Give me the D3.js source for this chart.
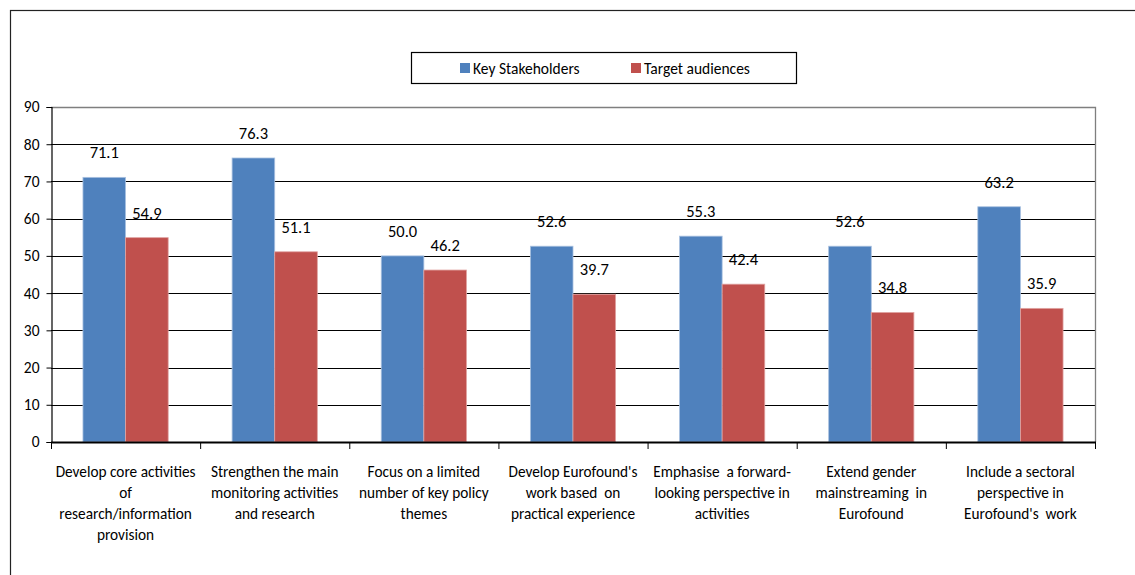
<!DOCTYPE html>
<html>
<head>
<meta charset="utf-8">
<script src="https://cdn.jsdelivr.net/npm/d3@7"></script>
<style>
  html, body { margin: 0; padding: 0; background: #fff; }
  svg { display: block; font-family: Carlito, Lato, "Liberation Sans", sans-serif; }
</style>
</head>
<body>
<svg id="chart" width="1135" height="575"></svg>
<script>
// Survey priorities: share of respondents (%) by group
const categories = [
  ["Develop core activities", "of", "research/information", "provision"],
  ["Strengthen the main", "monitoring activities", "and research"],
  ["Focus on a limited", "number of key policy", "themes"],
  ["Develop Eurofound's", "work based  on", "practical experience"],
  ["Emphasise  a forward-", "looking perspective in", "activities"],
  ["Extend gender", "mainstreaming  in", "Eurofound"],
  ["Include a sectoral", "perspective in", "Eurofound's  work"]
];
const seriesNames = ["Key Stakeholders", "Target audiences"];
const keyStakeholders = [71.1, 76.3, 50.0, 52.6, 55.3, 52.6, 63.2];
const targetAudiences = [54.9, 51.1, 46.2, 39.7, 42.4, 34.8, 35.9];
const yTicks = [0, 10, 20, 30, 40, 50, 60, 70, 80, 90];
const colors = ["#4F81BD", "#C0504D"];

const svg = d3.select("#chart");

// outer chart frame
svg.append("rect")
  .attr("x", 10.5).attr("y", 10.5)
  .attr("width", 1140).attr("height", 580)
  .attr("fill", "none").attr("stroke", "#222").attr("stroke-width", 1.2);

const plot = { left: 51, right: 1095, top: 107, bottom: 442 };

const x = d3.scaleBand()
  .domain(d3.range(categories.length))
  .range([plot.left, plot.right])
  .paddingInner(0).paddingOuter(0);

const xInner = d3.scaleBand()
  .domain([0, 1])
  .range([0, x.bandwidth()])
  .paddingOuter(0.75)
  .paddingInner(0);

const y = d3.scaleLinear().domain([0, 90]).range([plot.bottom, plot.top]);

// gridlines
svg.append("g")
  .selectAll("line")
  .data(yTicks.filter(t => t > 0 && t < 90))
  .join("line")
  .attr("x1", plot.left).attr("x2", plot.right)
  .attr("y1", d => Math.round(y(d)) + 0.5).attr("y2", d => Math.round(y(d)) + 0.5)
  .attr("stroke", "#000").attr("stroke-width", 1);

// plot area top and right borders
svg.append("path")
  .attr("d", `M${plot.left},${plot.top + 0.5}H${plot.right + 0.5}V${plot.bottom}`)
  .attr("fill", "none").attr("stroke", "#7f7f7f").attr("stroke-width", 1.3);

// bars
const series = [keyStakeholders, targetAudiences];
series.forEach((vals, si) => {
  const g = svg.append("g");
  g.selectAll("rect")
    .data(vals)
    .join("rect")
    .attr("x", (d, i) => x(i) + xInner(si))
    .attr("y", d => y(d))
    .attr("width", xInner.bandwidth())
    .attr("height", d => plot.bottom - y(d))
    .attr("fill", colors[si])
    .attr("stroke", si === 0 ? "#a9c1e0" : "#e0a3a1")
    .attr("stroke-width", 0.8);
  g.selectAll("text")
    .data(vals)
    .join("text")
    .attr("x", (d, i) => x(i) + xInner(si) + xInner.bandwidth() / 2)
    .attr("y", d => y(d) - 19)
    .attr("text-anchor", "middle")
    .attr("font-size", 16.5)
    .attr("fill", "#000")
    .text(d => d.toFixed(1));
});

// y axis
const yAxis = d3.axisLeft(y).tickValues(yTicks).tickSize(5).tickPadding(7);
const yg = svg.append("g").attr("transform", `translate(${plot.left + 0.5},0)`).call(yAxis);
yg.select(".domain").attr("stroke", "#000").attr("stroke-width", 1.2);
yg.selectAll(".tick line").attr("stroke", "#000");
yg.selectAll(".tick text")
  .attr("font-family", "Carlito, Lato, sans-serif")
  .attr("font-size", 15.5).attr("fill", "#000");

// x axis line with category boundary ticks
svg.append("line")
  .attr("x1", plot.left).attr("x2", plot.right + 1)
  .attr("y1", plot.bottom + 0.5).attr("y2", plot.bottom + 0.5)
  .attr("stroke", "#000").attr("stroke-width", 2.2);
svg.append("g")
  .selectAll("line")
  .data(d3.range(categories.length + 1))
  .join("line")
  .attr("x1", i => (i < categories.length ? x(i) : plot.right) + 0.5)
  .attr("x2", i => (i < categories.length ? x(i) : plot.right) + 0.5)
  .attr("y1", plot.bottom).attr("y2", plot.bottom + 7)
  .attr("stroke", "#000").attr("stroke-width", 1);

// category labels
const catG = svg.append("g");
categories.forEach((lines, i) => {
  const t = catG.append("text")
    .attr("x", x(i) + x.bandwidth() / 2)
    .attr("y", 477)
    .attr("text-anchor", "middle")
    .attr("font-size", 15.3)
    .attr("fill", "#000");
  lines.forEach((ln, k) => {
    t.append("tspan")
      .attr("x", x(i) + x.bandwidth() / 2)
      .attr("y", 477 + k * 21)
      .style("white-space", "pre")
      .text(ln);
  });
});

// legend
const lg = svg.append("g");
lg.append("rect")
  .attr("x", 411.5).attr("y", 52.5).attr("width", 385).attr("height", 31)
  .attr("fill", "#fff").attr("stroke", "#000").attr("stroke-width", 1.2);
const legendX = [460, 631];
seriesNames.forEach((name, i) => {
  lg.append("rect")
    .attr("x", legendX[i]).attr("y", 63).attr("width", 10).attr("height", 10)
    .attr("fill", colors[i]);
  lg.append("text")
    .attr("x", legendX[i] + 13).attr("y", 73.5)
    .attr("font-size", 15.5).attr("fill", "#000")
    .text(name);
});
</script>
</body>
</html>
